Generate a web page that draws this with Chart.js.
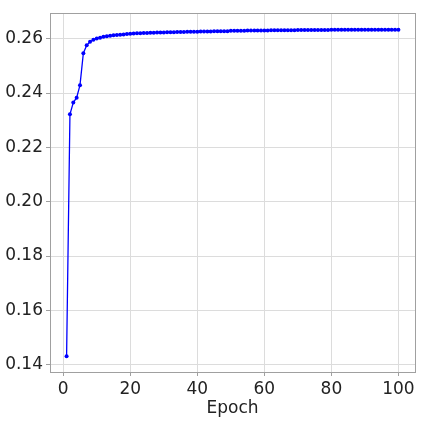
<!DOCTYPE html>
<html>
<head>
<meta charset="utf-8">
<script src="https://cdn.jsdelivr.net/npm/chart.js@4"></script>
<style>
html,body{margin:0;padding:0;background:#fff;}
#wrap{width:423px;height:423px;position:relative;}
</style>
</head>
<body>
<div id="wrap"><canvas id="c" width="423" height="423"></canvas></div>
<script>
const epochs = [];
for (let i = 1; i <= 100; i++) epochs.push(i);
const values = [
  0.1431, 0.2322, 0.2365, 0.2383, 0.2429, 0.2547, 0.2576, 0.2589, 0.2596, 0.2601,
  0.2604, 0.2607, 0.2609, 0.2611, 0.2613, 0.2614, 0.2615, 0.2616, 0.2617, 0.2618,
  0.2619, 0.2620, 0.2620, 0.2621, 0.2621, 0.2622, 0.2622, 0.2623, 0.2623, 0.2623,
  0.2624, 0.2624, 0.2624, 0.2625, 0.2625, 0.2625, 0.2626, 0.2626, 0.2626, 0.2626,
  0.2627, 0.2627, 0.2627, 0.2627, 0.2628, 0.2628, 0.2628, 0.2628, 0.2628, 0.2629,
  0.2629, 0.2629, 0.2629, 0.2629, 0.2630, 0.2630, 0.2630, 0.2630, 0.2630, 0.2630,
  0.2630, 0.2631, 0.2631, 0.2631, 0.2631, 0.2631, 0.2631, 0.2631, 0.2631, 0.2632,
  0.2632, 0.2632, 0.2632, 0.2632, 0.2632, 0.2632, 0.2632, 0.2632, 0.2632, 0.2633,
  0.2633, 0.2633, 0.2633, 0.2633, 0.2633, 0.2633, 0.2633, 0.2633, 0.2633, 0.2633,
  0.2633, 0.2633, 0.2633, 0.2633, 0.2633, 0.2633, 0.2633, 0.2633, 0.2633, 0.2633
];
const xTickValues = [0, 20, 40, 60, 80, 100];
const yTickValues = [0.14, 0.16, 0.18, 0.20, 0.22, 0.24, 0.26];
const xLabel = 'Epoch';

const frame = {
  id: 'frame',
  afterDraw(chart) {
    const a = chart.chartArea, ctx = chart.ctx;
    ctx.save();
    ctx.strokeStyle = '#a0a0a0';
    ctx.lineWidth = 1;
    ctx.strokeRect(Math.round(a.left) + 0.5, Math.round(a.top) + 0.5,
      Math.round(a.right - a.left), Math.round(a.bottom - a.top));
    ctx.restore();
  }
};

const font = { family: 'DejaVu Sans', size: 17 };

new Chart(document.getElementById('c'), {
  type: 'line',
  data: {
    datasets: [{
      data: epochs.map((e, i) => ({ x: e, y: values[i] })),
      borderColor: '#0000ff',
      backgroundColor: '#0000ff',
      borderWidth: 1.3,
      pointRadius: 2,
      pointBorderWidth: 0,
      pointBackgroundColor: '#0000ff',
      tension: 0
    }]
  },
  options: {
    responsive: false,
    animation: false,
    layout: { padding: { left: 0, top: 6, right: 8, bottom: 4 } },
    plugins: { legend: { display: false }, tooltip: { enabled: false } },
    scales: {
      x: {
        type: 'linear',
        min: -3.95,
        max: 104.95,
        afterBuildTicks: s => { s.ticks = xTickValues.map(v => ({ value: v })); },
        afterFit: s => { s.height = 47; },
        ticks: { font, color: '#222', padding: 3, maxRotation: 0, callback: v => String(v) },
        grid: { color: '#dcdcdc', tickColor: '#a0a0a0', tickLength: 4, lineWidth: 1 },
        border: { display: true, color: '#a0a0a0' },
        title: { display: true, text: xLabel, font, color: '#222', padding: { top: 0, bottom: 0 } }
      },
      y: {
        type: 'linear',
        min: 0.1373,
        max: 0.2694,
        afterBuildTicks: s => { s.ticks = yTickValues.map(v => ({ value: v })); },
        afterFit: s => { s.width = 50; },
        ticks: { font, color: '#222', padding: 3, callback: v => v.toFixed(2) },
        grid: { color: '#dcdcdc', tickColor: '#a0a0a0', tickLength: 4, lineWidth: 1 },
        border: { display: true, color: '#a0a0a0' }
      }
    }
  },
  plugins: [frame]
});
</script>
</body>
</html>
